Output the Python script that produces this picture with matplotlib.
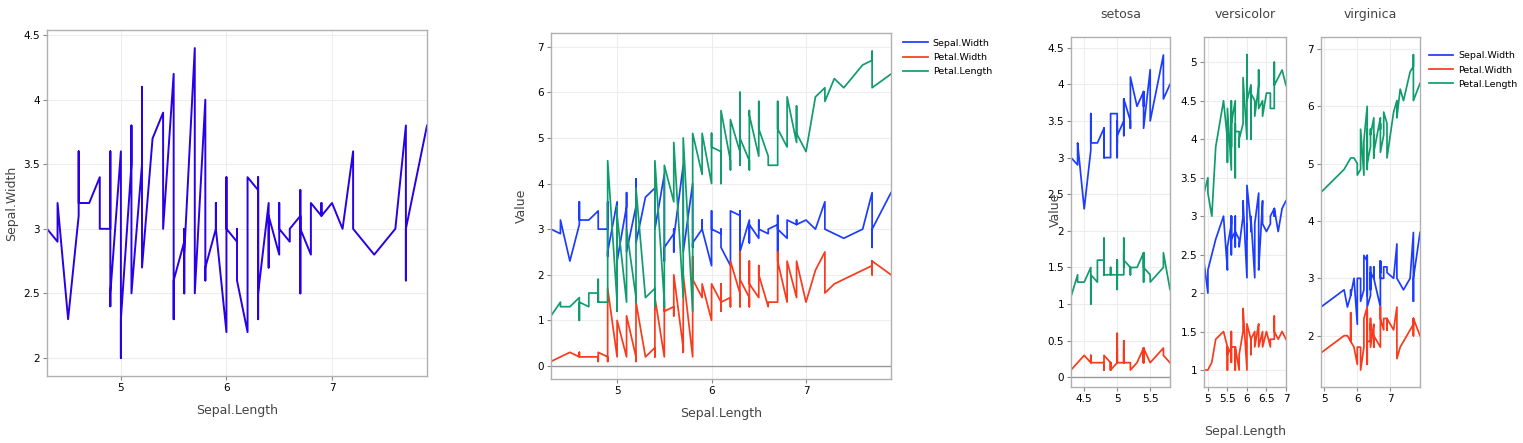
import matplotlib
matplotlib.use('Agg')
import matplotlib.pyplot as plt
import numpy as np

# iris, in original row order
sepal_length = [5.1, 4.9, 4.7, 4.6, 5.0, 5.4, 4.6, 5.0, 4.4, 4.9, 5.4, 4.8, 4.8, 4.3, 5.8, 5.7, 5.4, 5.1, 5.7, 5.1,
                5.4, 5.1, 4.6, 5.1, 4.8, 5.0, 5.0, 5.2, 5.2, 4.7, 4.8, 5.4, 5.2, 5.5, 4.9, 5.0, 5.5, 4.9, 4.4, 5.1,
                5.0, 4.5, 4.4, 5.0, 5.1, 4.8, 5.1, 4.6, 5.3, 5.0,
                7.0, 6.4, 6.9, 5.5, 6.5, 5.7, 6.3, 4.9, 6.6, 5.2, 5.0, 5.9, 6.0, 6.1, 5.6, 6.7, 5.6, 5.8, 6.2, 5.6,
                5.9, 6.1, 6.3, 6.1, 6.4, 6.6, 6.8, 6.7, 6.0, 5.7, 5.5, 5.5, 5.8, 6.0, 5.4, 6.0, 6.7, 6.3, 5.6, 5.5,
                5.5, 6.1, 5.8, 5.0, 5.6, 5.7, 5.7, 6.2, 5.1, 5.7,
                6.3, 5.8, 7.1, 6.3, 6.5, 7.6, 4.9, 7.3, 6.7, 7.2, 6.5, 6.4, 6.8, 5.7, 5.8, 6.4, 6.5, 7.7, 7.7, 6.0,
                6.9, 5.6, 7.7, 6.3, 6.7, 7.2, 6.2, 6.1, 6.4, 7.2, 7.4, 7.9, 6.4, 6.3, 6.1, 7.7, 6.3, 6.4, 6.0, 6.9,
                6.7, 6.9, 5.8, 6.8, 6.7, 6.7, 6.3, 6.5, 6.2, 5.9]
sepal_width = [3.5, 3.0, 3.2, 3.1, 3.6, 3.9, 3.4, 3.4, 2.9, 3.1, 3.7, 3.4, 3.0, 3.0, 4.0, 4.4, 3.9, 3.5, 3.8, 3.8,
               3.4, 3.7, 3.6, 3.3, 3.4, 3.0, 3.4, 3.5, 3.4, 3.2, 3.1, 3.4, 4.1, 4.2, 3.1, 3.2, 3.5, 3.6, 3.0, 3.4,
               3.5, 2.3, 3.2, 3.5, 3.8, 3.0, 3.8, 3.2, 3.7, 3.3,
               3.2, 3.2, 3.1, 2.3, 2.8, 2.8, 3.3, 2.4, 2.9, 2.7, 2.0, 3.0, 2.2, 2.9, 2.9, 3.1, 3.0, 2.7, 2.2, 2.5,
               3.2, 2.8, 2.5, 2.8, 2.9, 3.0, 2.8, 3.0, 2.9, 2.6, 2.4, 2.4, 2.7, 2.7, 3.0, 3.4, 3.1, 2.3, 3.0, 2.5,
               2.6, 3.0, 2.6, 2.3, 2.7, 3.0, 2.9, 2.9, 2.5, 2.8,
               3.3, 2.7, 3.0, 2.9, 3.0, 3.0, 2.5, 2.9, 2.5, 3.6, 3.2, 2.7, 3.0, 2.5, 2.8, 3.2, 3.0, 3.8, 2.6, 2.2,
               3.2, 2.8, 2.8, 2.7, 3.3, 3.2, 2.8, 3.0, 2.8, 3.0, 2.8, 3.8, 2.8, 2.8, 2.6, 3.0, 3.4, 3.1, 3.0, 3.1,
               3.1, 3.1, 2.7, 3.2, 3.3, 3.0, 2.5, 3.0, 3.4, 3.0]
petal_length = [1.4, 1.4, 1.3, 1.5, 1.4, 1.7, 1.4, 1.5, 1.4, 1.5, 1.5, 1.6, 1.4, 1.1, 1.2, 1.5, 1.3, 1.4, 1.7, 1.5,
                1.7, 1.5, 1.0, 1.7, 1.9, 1.6, 1.6, 1.5, 1.4, 1.6, 1.6, 1.5, 1.5, 1.4, 1.5, 1.2, 1.3, 1.4, 1.3, 1.5,
                1.3, 1.3, 1.3, 1.6, 1.9, 1.4, 1.6, 1.4, 1.5, 1.4,
                4.7, 4.5, 4.9, 4.0, 4.6, 4.5, 4.7, 3.3, 4.6, 3.9, 3.5, 4.2, 4.0, 4.7, 3.6, 4.4, 4.5, 4.1, 4.5, 3.9,
                4.8, 4.0, 4.9, 4.7, 4.3, 4.4, 4.8, 5.0, 4.5, 3.5, 3.8, 3.7, 3.9, 5.1, 4.5, 4.5, 4.7, 4.4, 4.1, 4.0,
                4.4, 4.6, 4.0, 3.3, 4.2, 4.2, 4.2, 4.3, 3.0, 4.1,
                6.0, 5.1, 5.9, 5.6, 5.8, 6.6, 4.5, 6.3, 5.8, 6.1, 5.1, 5.3, 5.5, 5.0, 5.1, 5.3, 5.5, 6.7, 6.9, 5.0,
                5.7, 4.9, 6.7, 4.9, 5.7, 6.0, 4.8, 4.9, 5.6, 5.8, 6.1, 6.4, 5.6, 5.1, 5.6, 6.1, 5.6, 5.5, 4.8, 5.4,
                5.6, 5.1, 5.1, 5.9, 5.7, 5.2, 5.0, 5.2, 5.4, 5.1]
petal_width = [0.2, 0.2, 0.2, 0.2, 0.2, 0.4, 0.3, 0.2, 0.2, 0.1, 0.2, 0.2, 0.1, 0.1, 0.2, 0.4, 0.4, 0.3, 0.3, 0.3,
               0.2, 0.4, 0.2, 0.5, 0.2, 0.2, 0.4, 0.2, 0.2, 0.2, 0.2, 0.4, 0.1, 0.2, 0.2, 0.2, 0.2, 0.1, 0.2, 0.2,
               0.3, 0.3, 0.2, 0.6, 0.4, 0.3, 0.2, 0.2, 0.2, 0.2,
               1.4, 1.5, 1.5, 1.3, 1.5, 1.3, 1.6, 1.0, 1.3, 1.4, 1.0, 1.5, 1.0, 1.4, 1.3, 1.4, 1.5, 1.0, 1.5, 1.1,
               1.8, 1.3, 1.5, 1.2, 1.3, 1.4, 1.4, 1.7, 1.5, 1.0, 1.1, 1.0, 1.2, 1.6, 1.5, 1.6, 1.5, 1.3, 1.3, 1.3,
               1.2, 1.4, 1.2, 1.0, 1.3, 1.2, 1.3, 1.3, 1.1, 1.3,
               2.5, 1.9, 2.1, 1.8, 2.2, 2.1, 1.7, 1.8, 1.8, 2.5, 2.0, 1.9, 2.1, 2.0, 2.4, 2.3, 1.8, 2.2, 2.3, 1.5,
               2.3, 2.0, 2.0, 1.8, 2.1, 1.8, 1.8, 1.8, 2.1, 1.6, 1.9, 2.0, 2.2, 1.5, 1.4, 2.3, 2.4, 1.8, 1.8, 2.1,
               2.4, 2.3, 1.9, 2.3, 2.5, 2.3, 1.9, 2.0, 2.3, 1.8]
species = ['setosa'] * 50 + ['versicolor'] * 50 + ['virginica'] * 50

series_names = ['Sepal.Width', 'Petal.Width', 'Petal.Length']
series_colors = ['#1c3cff', '#fa3a1c', '#119c6c']
species_names = ['setosa', 'versicolor', 'virginica']

W, H = 1523, 443
fig = plt.figure(figsize=(W / 100, H / 100), dpi=100)
plt.rcParams['font.family'] = 'DejaVu Sans'

x = np.array(sepal_length)
cols = {'Sepal.Width': np.array(sepal_width),
        'Petal.Width': np.array(petal_width),
        'Petal.Length': np.array(petal_length)}
sp = np.array(species)


def box(l, t, r, b):
    # pixel box -> figure axes
    return fig.add_axes([l / W, 1 - b / H, (r - l) / W, (b - t) / H])


def style(ax):
    ax.set_facecolor('white')
    for s in ax.spines.values():
        s.set_color('#b0b0b0')
        s.set_linewidth(1.0)
    ax.grid(True, color='#ededed', linewidth=0.8)
    ax.set_axisbelow(True)
    ax.tick_params(labelsize=7.5, length=3, color='#888888', width=0.8, pad=2)


def draw(ax, xs, cols_sub):
    order = np.argsort(xs, kind='stable')
    for name, c in zip(series_names, series_colors):
        ax.plot(xs[order], cols_sub[name][order], color=c, lw=1.25, label=name)


def legend(ax, anchor):
    ax.legend(loc='upper left', bbox_to_anchor=anchor, frameon=False, fontsize=6.8,
              handlelength=2.6, handletextpad=0.5, labelspacing=0.55, borderaxespad=0.2)


# panel 1
ax1 = box(47, 30, 427, 376)
style(ax1)
o = np.argsort(x, kind='stable')
ax1.plot(x[o], cols['Sepal.Width'][o], color='#2a00e8', lw=1.4)
ax1.set_xlim(4.3, 7.9)
ax1.set_ylim(1.86, 4.54)
ax1.set_xticks([5, 6, 7])
ax1.set_yticks([2, 2.5, 3, 3.5, 4, 4.5])
ax1.set_yticklabels(['2', '2.5', '3', '3.5', '4', '4.5'])
ax1.set_xlabel('Sepal.Length', fontsize=9, color='#444444', labelpad=8)
ax1.set_ylabel('Sepal.Width', fontsize=9, color='#444444', labelpad=4)

# panel 2
ax2 = box(551, 33, 891, 379)
style(ax2)
draw(ax2, x, cols)
ax2.axhline(0, color='#999999', lw=1.0, zorder=1)
ax2.set_xlim(4.3, 7.9)
ax2.set_ylim(-0.285, 7.30)
ax2.set_xticks([5, 6, 7])
ax2.set_yticks(range(0, 8))
ax2.set_xlabel('Sepal.Length', fontsize=9, color='#444444', labelpad=8)
ax2.set_ylabel('Value', fontsize=9, color='#444444', labelpad=7)
legend(ax2, (1.02, 1.0))

# panel 3, one facet per species
facet_boxes = [(1071, 37, 1170, 387), (1204, 37, 1286, 387), (1321, 37, 1420, 387)]
facet_xlim = [(4.3, 5.8), (4.9, 7.0), (4.9, 7.9)]
facet_ylim = [(-0.132, 4.646), (0.779, 5.329), (1.105, 7.209)]
facet_xticks = [[4.5, 5, 5.5], [5, 5.5, 6, 6.5, 7], [5, 6, 7]]
facet_yticks = [[0, 0.5, 1, 1.5, 2, 2.5, 3, 3.5, 4, 4.5], [1, 1.5, 2, 2.5, 3, 3.5, 4, 4.5, 5], [2, 3, 4, 5, 6, 7]]
facet_axes = []
for k, name in enumerate(species_names):
    ax = box(*facet_boxes[k])
    style(ax)
    m = sp == name
    draw(ax, x[m], {n: v[m] for n, v in cols.items()})
    if facet_ylim[k][0] < 0:
        ax.axhline(0, color='#999999', lw=1.0, zorder=1)
    ax.set_xlim(*facet_xlim[k])
    ax.set_ylim(*facet_ylim[k])
    ax.set_xticks(facet_xticks[k])
    ax.set_xticklabels(['%g' % v for v in facet_xticks[k]])
    ax.set_yticks(facet_yticks[k])
    ax.set_yticklabels(['%g' % v for v in facet_yticks[k]])
    ax.set_title(name, fontsize=9, color='#444444', pad=14)
    facet_axes.append(ax)

legend(facet_axes[-1], (1.03, 0.975))
fig.text(1055 / W, 1 - 210 / H, 'Value', rotation=90, ha='center', va='center', fontsize=9, color='#444444')
fig.text(1245 / W, 1 - 431 / H, 'Sepal.Length', ha='center', va='center', fontsize=9, color='#444444')

fig.savefig('out.png', dpi=100, facecolor='white')
